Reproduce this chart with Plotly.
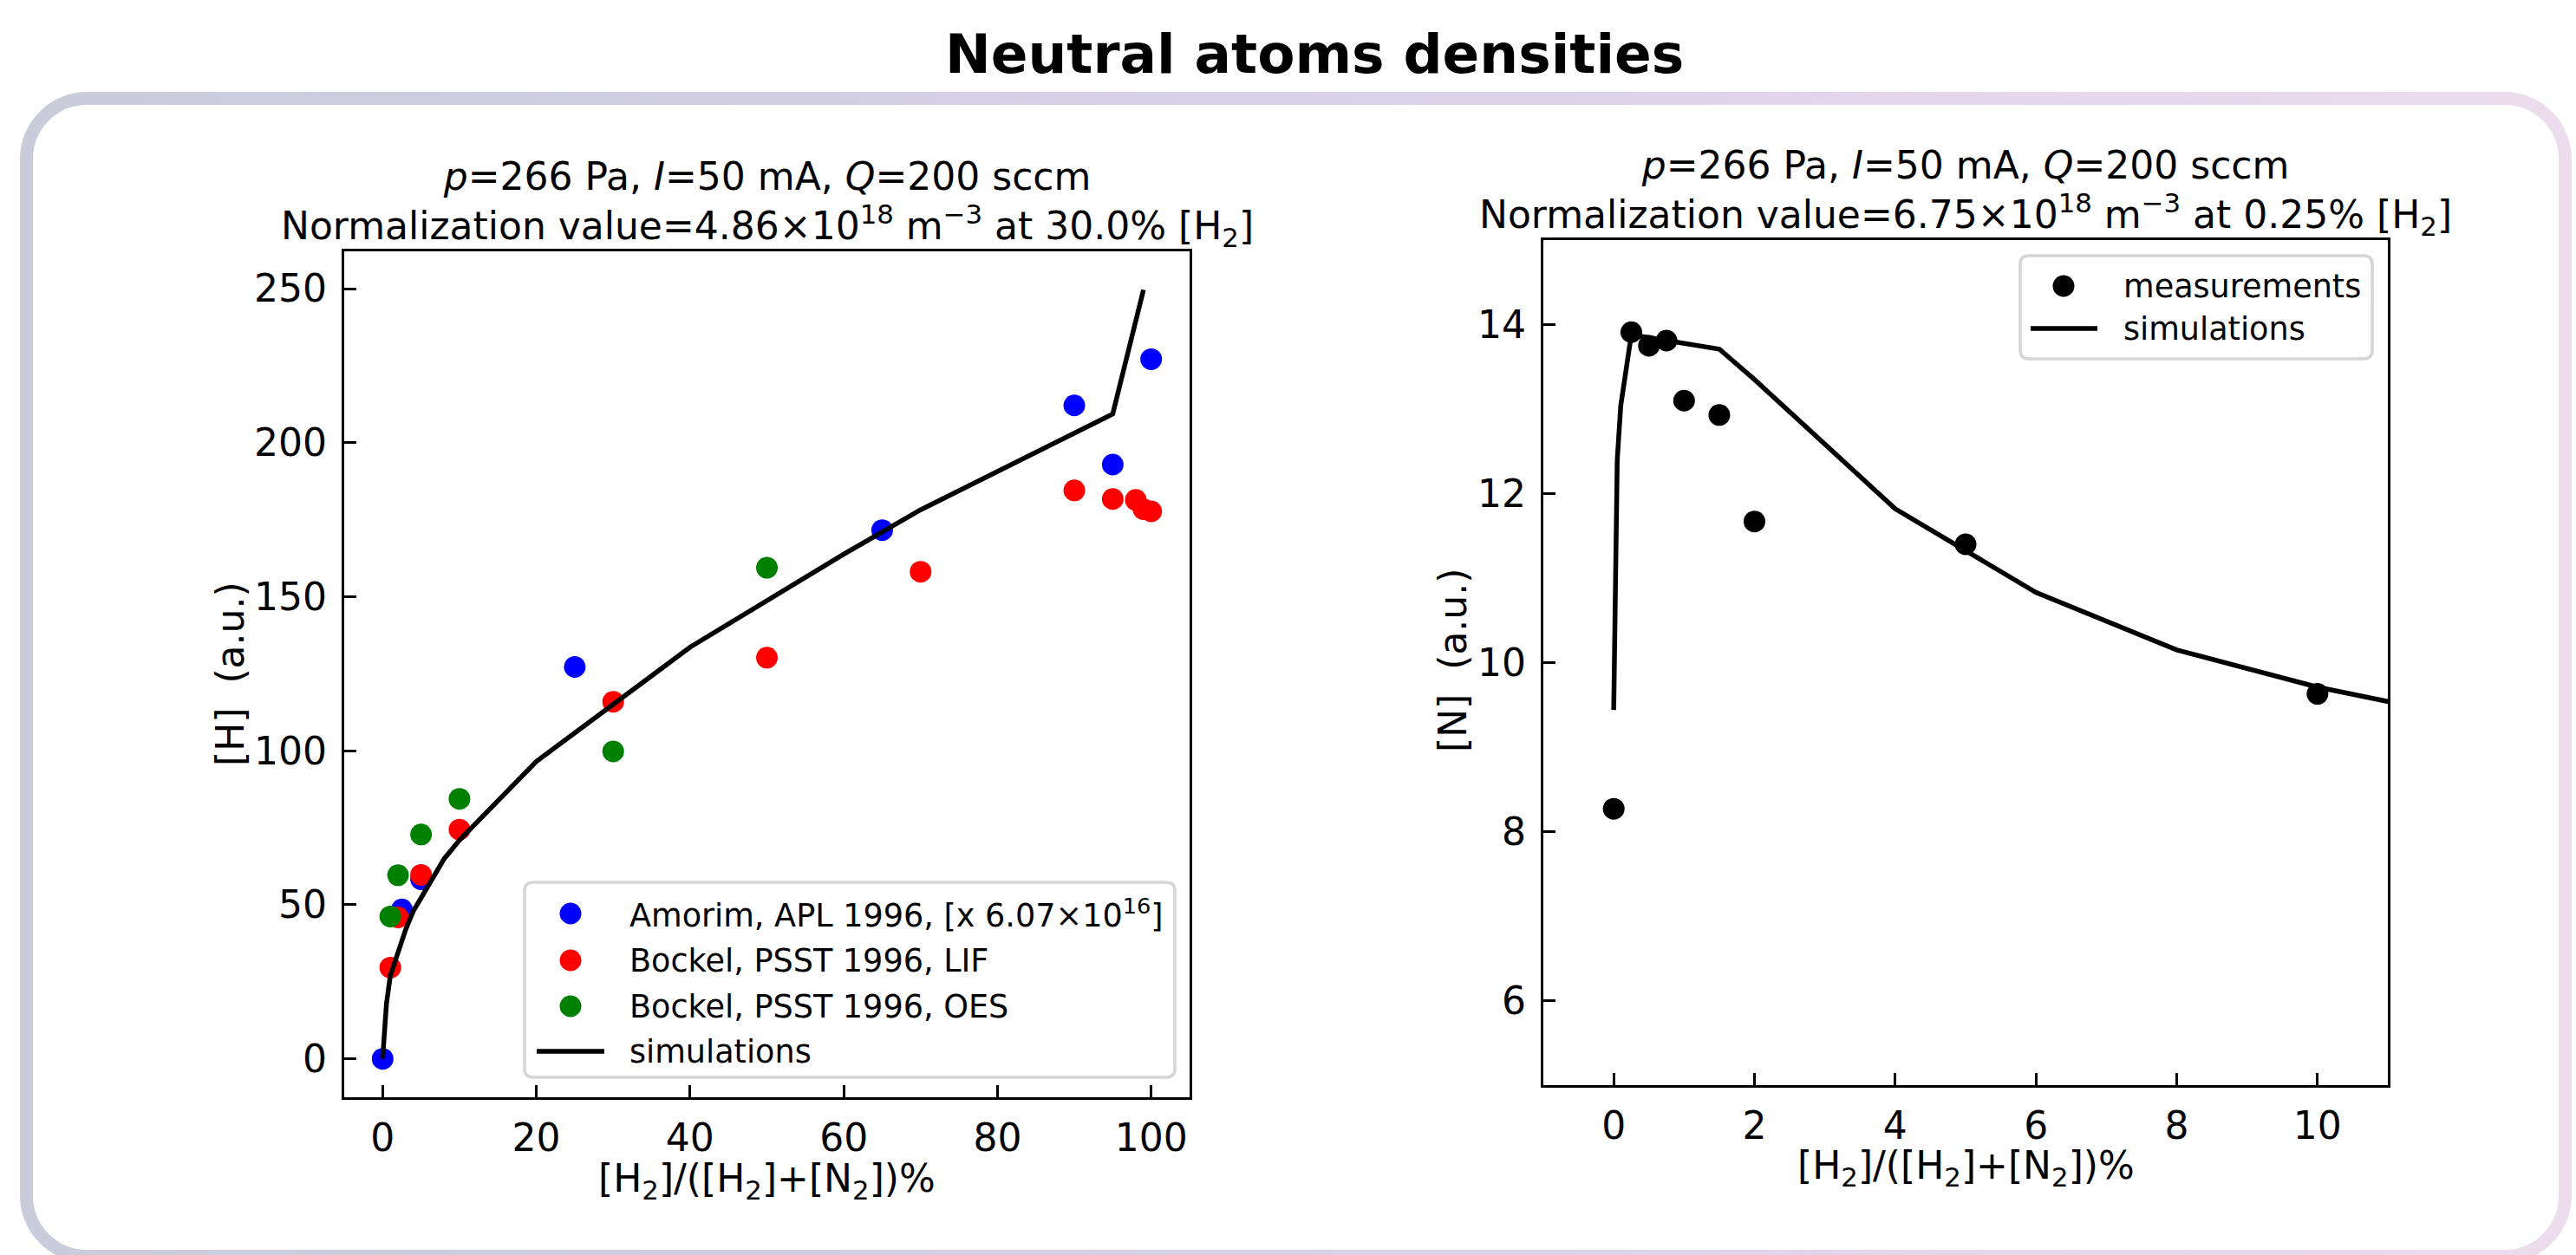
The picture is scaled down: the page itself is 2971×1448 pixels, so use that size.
import base64
import plotly.graph_objects as go

# ---------------- data ----------------
# Left panel: [H] (a.u.) vs H2 fraction (%)
amorim_x = [0, 2.5, 5, 25, 65, 90, 95, 100]
amorim_y = [0, 48.5, 58.3, 127.2, 171.6, 212.1, 192.9, 227.1]

lif_x = [1, 2, 5, 10, 30, 50, 70, 90, 95, 98, 99, 100]
lif_y = [29.6, 45.9, 59.7, 74.4, 115.9, 130.2, 158.1, 184.5, 181.7, 181.4, 178.4, 177.7]

oes_x = [1, 2, 5, 10, 30, 50]
oes_y = [46.2, 59.6, 72.8, 84.4, 99.8, 159.4]

simH_x = [0, 0.2, 0.5, 1, 2, 3, 4, 6, 8, 10, 20, 40, 60, 70, 90, 95, 99]
simH_y = [0, 8.7, 18, 27, 35, 42, 48, 56.5, 64.9, 71, 96.5, 133.6, 163.8, 178.2, 203.4, 209.3, 249.6]

# Right panel: [N] (a.u.) vs H2 fraction (%)
measN_x = [0, 0.25, 0.5, 0.75, 1, 1.5, 2, 5, 10]
measN_y = [8.27, 13.91, 13.75, 13.81, 13.10, 12.93, 11.67, 11.40, 9.63]

simN_x = [0, 0.02, 0.04, 0.05, 0.1, 0.25, 1.5, 2, 4, 6, 8, 10, 12]
simN_y = [9.44, 10.7, 11.7, 12.4, 13.04, 13.88, 13.71, 13.35, 11.82, 10.83, 10.15, 9.71, 9.37]

H_xticks = [0, 20, 40, 60, 80, 100]
H_yticks = [0, 50, 100, 150, 200, 250]
N_xticks = [0, 2, 4, 6, 8, 10]
N_yticks = [6, 8, 10, 12, 14]

# ---------------- geometry helpers ----------------
W, H = 2971, 1448
FONT = "DejaVu Sans"
BASE = 44
LEG = 36.6


def fx(p):
    return p / W


def fy(p):
    return 1 - p / H


fig = go.Figure()

# left panel traces
fig.add_trace(go.Scatter(x=amorim_x, y=amorim_y, mode="markers", name="Amorim, APL 1996",
                         marker=dict(color="#0000ff", size=25), xaxis="x", yaxis="y", showlegend=False))
fig.add_trace(go.Scatter(x=lif_x, y=lif_y, mode="markers", name="Bockel, PSST 1996, LIF",
                         marker=dict(color="#ff0000", size=25), xaxis="x", yaxis="y", showlegend=False))
fig.add_trace(go.Scatter(x=oes_x, y=oes_y, mode="markers", name="Bockel, PSST 1996, OES",
                         marker=dict(color="#008000", size=25), xaxis="x", yaxis="y", showlegend=False))
fig.add_trace(go.Scatter(x=simH_x, y=simH_y, mode="lines", name="simulations",
                         line=dict(color="black", width=5.5), xaxis="x", yaxis="y", showlegend=False))

# right panel traces
fig.add_trace(go.Scatter(x=measN_x, y=measN_y, mode="markers", name="measurements",
                         marker=dict(color="black", size=25), xaxis="x2", yaxis="y2", showlegend=False))
fig.add_trace(go.Scatter(x=simN_x, y=simN_y, mode="lines", name="simulations",
                         line=dict(color="black", width=5.5), xaxis="x2", yaxis="y2", showlegend=False))

axis_common = dict(
    showline=True, linecolor="black", linewidth=3.3, mirror=True,
    ticks="inside", ticklen=14, tickwidth=3.3, tickcolor="black",
    showgrid=False, zeroline=False,
    tickfont=dict(family=FONT, size=BASE, color="black"),
)

fig.update_layout(
    width=W, height=H, autosize=False,
    margin=dict(l=0, r=0, t=0, b=0),
    paper_bgcolor="white", plot_bgcolor="white",
    font=dict(family=FONT, color="black"),
    xaxis=dict(domain=[fx(397), fx(1372)], range=[-5, 105], tickvals=H_xticks,
               anchor="y", ticklabelstandoff=6, **axis_common),
    yaxis=dict(domain=[fy(1266), fy(290)], range=[-12.48, 262.1], tickvals=H_yticks,
               anchor="x", ticklabelstandoff=8, **axis_common),
    xaxis2=dict(domain=[fx(1780), fx(2754)], range=[-1, 11], tickvals=N_xticks,
                anchor="y2", ticklabelstandoff=6, **axis_common),
    yaxis2=dict(domain=[fy(1252), fy(277)], range=[5, 15], tickvals=N_yticks,
                anchor="x2", ticklabelstandoff=8, **axis_common),
)

# ---------------- background rounded frame with gradient border ----------------
svg = (
    '<svg xmlns="http://www.w3.org/2000/svg" width="2971" height="1448" viewBox="0 0 2971 1448" '
    'preserveAspectRatio="none"><defs><linearGradient id="g" x1="0" y1="0" x2="1" y2="0">'
    '<stop offset="0" stop-color="#c9ccdb"/><stop offset="0.5" stop-color="#d9d1e8"/>'
    '<stop offset="1" stop-color="#ecdcee"/></linearGradient></defs>'
    '<rect x="30.5" y="113.5" width="2928" height="1336" rx="70" ry="70" fill="#ffffff" '
    'stroke="url(#g)" stroke-width="15"/></svg>'
)
fig.add_layout_image(dict(
    source="data:image/svg+xml;base64," + base64.b64encode(svg.encode()).decode(),
    xref="paper", yref="paper", x=0, y=1, sizex=1, sizey=1,
    xanchor="left", yanchor="top", sizing="stretch", layer="below",
))

annotations = []
shapes = []

# main title
annotations.append(dict(text="<b>Neutral atoms densities</b>", x=fx(1516), y=fy(62),
                        xref="paper", yref="paper", xanchor="center", yanchor="middle",
                        showarrow=False, font=dict(family=FONT, size=63, color="black")))

# subplot titles
annotations.append(dict(
    text="<i>p</i>=266 Pa, <i>I</i>=50 mA, <i>Q</i>=200 sccm<br>"
         "Normalization value=4.86×10<sup>18</sup> m<sup>−3</sup> at 30.0% [H<sub>2</sub>]",
    x=fx((397 + 1372) / 2), y=fy(294), xref="paper", yref="paper",
    xanchor="center", yanchor="bottom", showarrow=False,
    font=dict(family=FONT, size=BASE, color="black")))
annotations.append(dict(
    text="<i>p</i>=266 Pa, <i>I</i>=50 mA, <i>Q</i>=200 sccm<br>"
         "Normalization value=6.75×10<sup>18</sup> m<sup>−3</sup> at 0.25% [H<sub>2</sub>]",
    x=fx((1780 + 2754) / 2), y=fy(281), xref="paper", yref="paper",
    xanchor="center", yanchor="bottom", showarrow=False,
    font=dict(family=FONT, size=BASE, color="black")))

# axis labels
xlab = "[H<sub>2</sub>]/([H<sub>2</sub>]+[N<sub>2</sub>])%"
annotations.append(dict(text=xlab, x=fx(884), y=fy(1362), xref="paper", yref="paper",
                        xanchor="center", yanchor="middle", showarrow=False,
                        font=dict(family=FONT, size=BASE, color="black")))
annotations.append(dict(text=xlab, x=fx(2267), y=fy(1347), xref="paper", yref="paper",
                        xanchor="center", yanchor="middle", showarrow=False,
                        font=dict(family=FONT, size=BASE, color="black")))
annotations.append(dict(text="[H]\u00a0\u00a0(a.u.)", x=fx(265), y=fy(778), xref="paper", yref="paper",
                        xanchor="center", yanchor="middle", textangle=-90, showarrow=False,
                        font=dict(family=FONT, size=BASE, color="black")))
annotations.append(dict(text="[N]\u00a0\u00a0(a.u.)", x=fx(1675), y=fy(762), xref="paper", yref="paper",
                        xanchor="center", yanchor="middle", textangle=-90, showarrow=False,
                        font=dict(family=FONT, size=BASE, color="black")))


def rounded_rect(x0, y0, x1, y1, r):
    rx, ry = r / W, r / H
    X0, X1 = fx(x0), fx(x1)
    Y0, Y1 = fy(y0), fy(y1)  # Y0 top (higher), Y1 bottom
    return (f"M {X0 + rx},{Y0} L {X1 - rx},{Y0} Q {X1},{Y0} {X1},{Y0 - ry} "
            f"L {X1},{Y1 + ry} Q {X1},{Y1} {X1 - rx},{Y1} L {X0 + rx},{Y1} "
            f"Q {X0},{Y1} {X0},{Y1 + ry} L {X0},{Y0 - ry} Q {X0},{Y0} {X0 + rx},{Y0} Z")


def legend(frame, rows, mark_x, line_x0, line_x1, text_x):
    x0, y0, x1, y1 = frame
    shapes.append(dict(type="path", path=rounded_rect(x0, y0, x1, y1, 10), xref="paper", yref="paper",
                       line=dict(color="#d5d5d5", width=3.5), fillcolor="rgba(255,255,255,0.85)",
                       layer="above"))
    for kind, color, label, yc in rows:
        if kind == "marker":
            r = 12.5
            shapes.append(dict(type="circle", xref="paper", yref="paper",
                               x0=fx(mark_x - r), x1=fx(mark_x + r), y0=fy(yc + r), y1=fy(yc - r),
                               fillcolor=color, line=dict(width=0), layer="above"))
        else:
            shapes.append(dict(type="line", xref="paper", yref="paper",
                               x0=fx(line_x0), x1=fx(line_x1), y0=fy(yc), y1=fy(yc),
                               line=dict(color=color, width=5.5), layer="above"))
        annotations.append(dict(text=label, x=fx(text_x), y=fy(yc), xref="paper", yref="paper",
                                xanchor="left", yanchor="middle", showarrow=False,
                                font=dict(family=FONT, size=LEG, color="black")))


legend((605, 1018, 1355, 1243),
       [("marker", "#0000ff", "Amorim, APL 1996, [x 6.07×10<sup>16</sup>]", 1054),
        ("marker", "#ff0000", "Bockel, PSST 1996, LIF", 1108),
        ("marker", "#008000", "Bockel, PSST 1996, OES", 1161),
        ("line", "black", "simulations", 1213)],
       658, 619, 697, 724)

legend((2330, 295, 2736, 414),
       [("marker", "black", "measurements", 330),
        ("line", "black", "simulations", 379)],
       2380, 2342, 2419, 2447)

fig.update_layout(annotations=annotations, shapes=shapes)

fig.write_html("out.html", config={"displayModeBar": False},
               post_script="document.body.style.margin='0';")
